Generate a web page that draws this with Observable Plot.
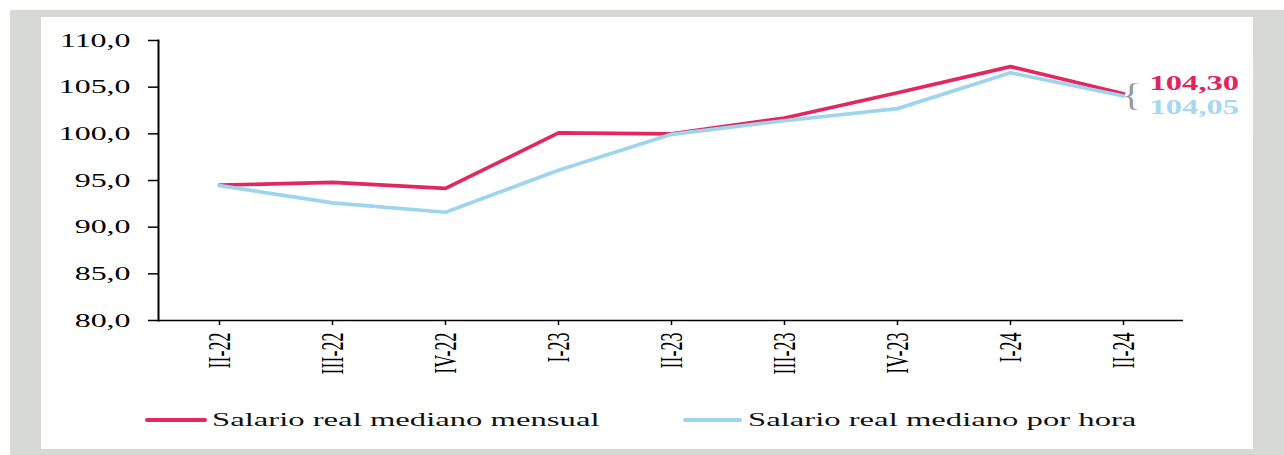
<!DOCTYPE html>
<html>
<head>
<meta charset="utf-8">
<script src="https://cdn.jsdelivr.net/npm/d3@7"></script>
<script src="https://cdn.jsdelivr.net/npm/@observablehq/plot@0.6"></script>
<style>
html, body { margin: 0; padding: 0; width: 1284px; height: 455px; overflow: hidden; background: #fff;
  font-family: "Liberation Serif", "Times New Roman", serif; }
#outer { position: absolute; left: 10px; top: 10px; width: 1274px; height: 445px; background: #d6d9d5; }
#inner { position: absolute; left: 41px; top: 17px; width: 1212px; height: 432px; background: #fff; }
#chart { position: absolute; left: 0; top: 0; }
.leg { position: absolute; top: 410px; height: 20px; line-height: 20px; font-size: 19px; color: #111;
  white-space: nowrap; transform: scaleX(1.72); transform-origin: 0 50%; }
.sw { position: absolute; top: 418px; height: 4px; border-radius: 2px; }
</style>
</head>
<body>
<div id="outer"></div>
<div id="inner"></div>
<div id="chart"></div>
<div id="legend"></div>
<script>
// ---- data ----
const quarters = ["II-22", "III-22", "IV-22", "I-23", "II-23", "III-23", "IV-23", "I-24", "II-24"];
const mensual  = [94.5, 94.8, 94.15, 100.1, 100.0, 101.7, 104.4, 107.2, 104.30];
const porHora  = [94.45, 92.6, 91.6, 96.1, 99.95, 101.4, 102.7, 106.55, 104.05];
const yTicks   = [80, 85, 90, 95, 100, 105, 110];
const seriesNames = ["Salario real mediano mensual", "Salario real mediano por hora"];
const endLabels   = ["104,30", "104,05"];

// ---- styles ----
const colors = ["#e2285e", "#9fd4ef"];
const labelColors = ["#e3245c", "#a6d8f1"];

const seriesValues = [mensual, porHora];
const rows = seriesValues.flatMap((vals, s) =>
  quarters.map((q, i) => ({quarter: q, value: vals[i], series: seriesNames[s]})));
const lastRows = seriesValues.map((vals, s) => ({
  quarter: quarters[quarters.length - 1], value: vals[vals.length - 1],
  label: endLabels[s], color: labelColors[s]
}));
const braceRow = [{
  quarter: quarters[quarters.length - 1],
  value: (mensual[mensual.length - 1] + porHora[porHora.length - 1]) / 2
}];

const plot = Plot.plot({
  width: 1284,
  height: 380,
  marginLeft: 158,
  marginRight: 101,
  marginTop: 40,
  marginBottom: 60,
  style: {background: "transparent", fontFamily: "'Liberation Serif', 'Times New Roman', serif", fontSize: "19px", color: "#000"},
  x: {type: "point", domain: quarters, padding: 0.5},
  y: {domain: [80, 110]},
  marks: [
    Plot.ruleY([80], {stroke: "#000", strokeWidth: 1.5}),
    Plot.frame({anchor: "left", stroke: "#000", strokeWidth: 2}),
    Plot.axisY({ticks: yTicks, tickSize: 10, tickPadding: 18, label: null,
      tickFormat: d => d.toFixed(1).replace(".", ","), strokeWidth: 1.5}),
    Plot.axisX({tickRotate: -90, tickSize: 5, tickPadding: 7, label: null, strokeWidth: 1.5}),
    Plot.line(rows.filter(d => d.series === seriesNames[0]), {x: "quarter", y: "value", stroke: colors[0], strokeWidth: 3.7}),
    Plot.line(rows.filter(d => d.series === seriesNames[1]), {x: "quarter", y: "value", stroke: colors[1], strokeWidth: 3.7}),
    Plot.text(braceRow, {x: "quarter", y: "value", text: () => "{", dx: 8, dy: 1, fontSize: 31, fill: "#9a9a9a"}),
    Plot.text(lastRows.slice(0, 1), {x: "quarter", y: "value", text: "label", fill: "color", dx: 26, dy: -10, textAnchor: "start", fontSize: 20, fontWeight: "bold"}),
    Plot.text(lastRows.slice(1), {x: "quarter", y: "value", text: "label", fill: "color", dx: 26, dy: 12, textAnchor: "start", fontSize: 20, fontWeight: "bold"})
  ]
});
document.getElementById("chart").appendChild(plot);

// x tick label font size
plot.querySelectorAll('g[aria-label="x-axis tick label"]').forEach(g => g.setAttribute("font-size", "18"));

// horizontal stretch of glyphs (reference text is drawn wide)
function stretch(el, s, mode) {
  const r = el.getBoundingClientRect();
  const px = mode === "end" ? r.right : mode === "start" ? r.left : (r.left + r.right) / 2;
  const m = el.parentNode.getScreenCTM();
  const pxp = (px - m.e) / m.a;
  const old = el.getAttribute("transform") || "";
  el.setAttribute("transform", `translate(${pxp},0) scale(${s},1) translate(${-pxp},0) ${old}`);
}
plot.querySelectorAll('g[aria-label="y-axis tick label"] text').forEach(t => stretch(t, 1.68, "end"));
plot.querySelectorAll('g[aria-label="x-axis tick label"] text').forEach(t => stretch(t, 1.8, "middle"));
plot.querySelectorAll('text').forEach(t => {
  if (endLabels.includes(t.textContent)) stretch(t, 1.63, "start");
  else if (t.textContent === "{") stretch(t, 1.3, "middle");
});

// legend
const legendLayout = [{sw: 145, sww: 62, tx: 212}, {sw: 683, sww: 59, tx: 748}];
const legend = document.getElementById("legend");
seriesNames.forEach((name, i) => {
  const sw = document.createElement("div");
  sw.className = "sw";
  sw.style.left = legendLayout[i].sw + "px";
  sw.style.width = legendLayout[i].sww + "px";
  sw.style.background = colors[i];
  legend.appendChild(sw);
  const tx = document.createElement("div");
  tx.className = "leg";
  tx.style.left = legendLayout[i].tx + "px";
  tx.textContent = name;
  legend.appendChild(tx);
});
</script>
</body>
</html>
